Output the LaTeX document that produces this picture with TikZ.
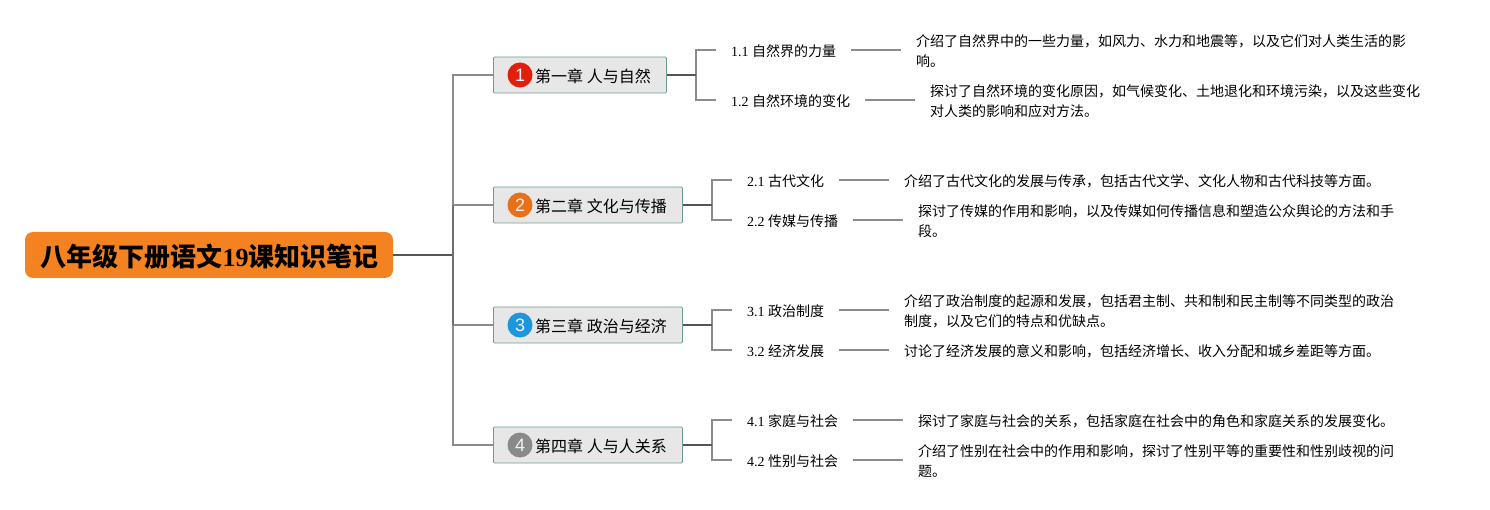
\documentclass[tikz,border=0pt]{standalone}
\usepackage{fontspec}
\setmainfont{Liberation Serif}
\newfontfamily\cjk{Noto Sans CJK SC}
\newfontfamily\badgefont{Liberation Sans}
\newcommand{\zh}[1]{{\cjk #1}}
\definecolor{rootfill}{HTML}{F58220}
\definecolor{chapfill}{HTML}{E6E7E6}
\definecolor{chapedge}{HTML}{6A9F90}
\definecolor{linegray}{HTML}{8C8C8C}
\definecolor{darkline}{HTML}{555555}
\definecolor{bred}{HTML}{E0200C}
\definecolor{borange}{HTML}{E8701A}
\definecolor{bblue}{HTML}{1E96DC}
\definecolor{bgray}{HTML}{8A8A8A}
\tikzset{
  x=1pt,y=-1pt,
  root/.style={draw=none,fill=rootfill,rounded corners=8pt,minimum width=368pt,minimum height=46pt,inner sep=0pt,anchor=center},
  roottxt/.style={inner sep=0pt,font=\fontsize{26}{30}\selectfont\bfseries,anchor=center},
  chapter/.style={draw=chapedge,fill=chapfill,line width=.8pt,rounded corners=1pt,minimum height=36pt,inner sep=0pt,anchor=west},
  chaptxt/.style={font=\fontsize{16}{18}\selectfont,inner sep=0pt,anchor=west},
  badge/.style={circle,minimum size=25pt,inner sep=0pt,text=white!90!gray,font=\badgefont\fontsize{18}{18}\selectfont},
  sub/.style={font=\fontsize{14}{16}\selectfont,inner xsep=15pt,inner ysep=2pt,anchor=west},
  detail/.style={font=\fontsize{14}{20}\selectfont,inner xsep=15pt,inner ysep=0pt,anchor=west,align=left},
  conn/.style={draw=linegray,line width=1.3pt},
  darkconn/.style={draw=darkline,line width=1.7pt},
}
\begin{document}
\begin{tikzpicture}
\useasboundingbox (0,0) rectangle (1490,510);
\node[root] (r) at (209,255) {};
\node[roottxt] (rt) at (209.5,257) {\zh{八年级下册语文}19\zh{课知识笔记}};
\coordinate (trunk) at (453,255);

\node[chapter,minimum width=173pt] (c1) at (493,75) {};
\node[chapter,minimum width=189pt] (c2) at (493,205) {};
\node[chapter,minimum width=189pt] (c3) at (493,325) {};
\node[chapter,minimum width=189pt] (c4) at (493,445) {};
\node[badge,fill=bred] (b1) at (520,75) {1};
\node[badge,fill=borange] (b2) at (520,205) {2};
\node[badge,fill=bblue] (b3) at (520,325) {3};
\node[badge,fill=bgray] (b4) at (520,445) {4};
\node[chaptxt] (t1) at (535,76) {\zh{第一章 人与自然}};
\node[chaptxt] (t2) at (535,206) {\zh{第二章 文化与传播}};
\node[chaptxt] (t3) at (535,326) {\zh{第三章 政治与经济}};
\node[chaptxt] (t4) at (535,446) {\zh{第四章 人与人关系}};

\node[sub] (s11) at (716,51) {1.1 \zh{自然界的力量}};
\node[sub] (s12) at (716,101) {1.2 \zh{自然环境的变化}};
\node[sub] (s21) at (732,181) {2.1 \zh{古代文化}};
\node[sub] (s22) at (732,221) {2.2 \zh{传媒与传播}};
\node[sub] (s31) at (732,311) {3.1 \zh{政治制度}};
\node[sub] (s32) at (732,351) {3.2 \zh{经济发展}};
\node[sub] (s41) at (732,421) {4.1 \zh{家庭与社会}};
\node[sub] (s42) at (732,461) {4.2 \zh{性别与社会}};

\node[detail] (d11) at (901,51) {\zh{介绍了自然界中的一些力量，如风力、水力和地震等，以及它们对人类生活的影}\\\zh{响。}};
\node[detail] (d12) at (915,101) {\zh{探讨了自然环境的变化原因，如气候变化、土地退化和环境污染，以及这些变化}\\\zh{对人类的影响和应对方法。}};
\node[detail] (d21) at (889,181) {\zh{介绍了古代文化的发展与传承，包括古代文学、文化人物和古代科技等方面。}};
\node[detail] (d22) at (903,221) {\zh{探讨了传媒的作用和影响，以及传媒如何传播信息和塑造公众舆论的方法和手}\\\zh{段。}};
\node[detail] (d31) at (889,311) {\zh{介绍了政治制度的起源和发展，包括君主制、共和制和民主制等不同类型的政治}\\\zh{制度，以及它们的特点和优缺点。}};
\node[detail] (d32) at (889,351) {\zh{讨论了经济发展的意义和影响，包括经济增长、收入分配和城乡差距等方面。}};
\node[detail] (d41) at (903,421) {\zh{探讨了家庭与社会的关系，包括家庭在社会中的角色和家庭关系的发展变化。}};
\node[detail] (d42) at (903,461) {\zh{介绍了性别在社会中的作用和影响，探讨了性别平等的重要性和性别歧视的问}\\\zh{题。}};

\draw[darkconn] (r.east) -- (trunk);
\foreach \c in {c1,c2,c3,c4}
  \draw[conn] (trunk) |- (\c.west);
\draw[draw=darkline!85!white,line width=1.5pt] (trunk |- c2.west) -- (trunk |- c3.west);
\foreach \c/\a/\b/\j in {c1/s11/s12/696,c2/s21/s22/712,c3/s31/s32/712,c4/s41/s42/712}{
  \draw[conn] (\j,0 |- \c.east) |- ([yshift=1pt]\a.west);
  \draw[conn] (\j,0 |- \c.east) |- ([yshift=1pt]\b.west);
  \draw[darkconn] (\c.east) -- (\j,0 |- \c.east);
}
\foreach \a/\b in {s11/d11,s12/d12,s21/d21,s22/d22,s31/d31,s32/d32,s41/d41,s42/d42}
  \draw[conn] ([yshift=1pt]\a.east) -- ([yshift=1pt]\b.west);
\end{tikzpicture}
\end{document}
